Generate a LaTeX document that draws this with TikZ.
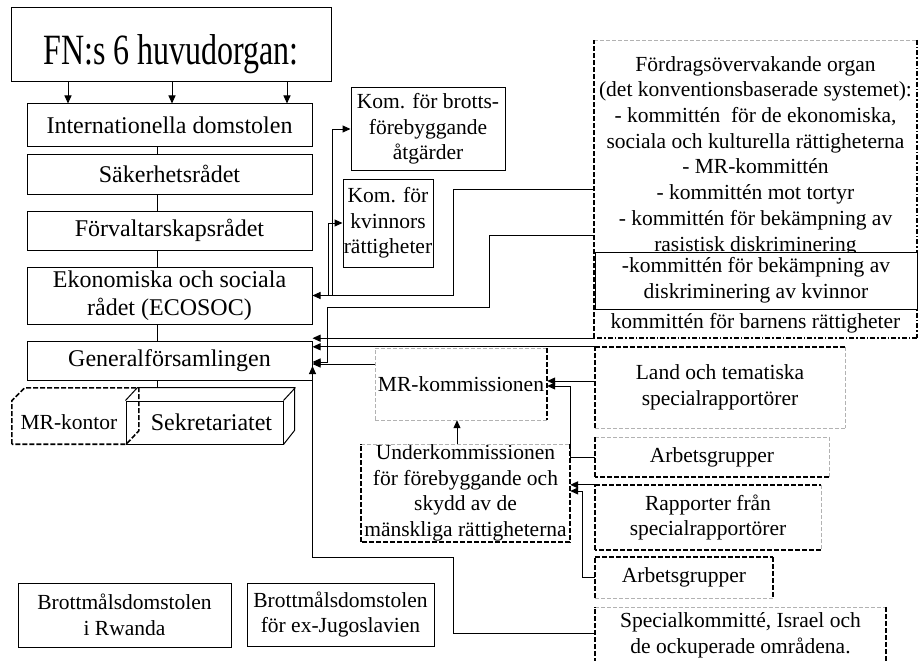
\documentclass[tikz,border=0pt]{standalone}
\usepackage{fontspec}
\setmainfont{Liberation Serif}
\usepackage{graphicx}
\usetikzlibrary{arrows.meta}

\newcommand\orgfont{\fontsize{24}{28}\selectfont}
\newcommand\komfont{\fontsize{21.5}{25.7}\selectfont}
\newcommand\fntitle{\fontsize{32}{38}\selectfont}
% four sides of a box, each with its own style: top, right, bottom, left
\newcommand\sides[5]{%
  \draw[#2] (#1.north west) -- (#1.north east);
  \draw[#3] (#1.north east) -- (#1.south east);
  \draw[#4] (#1.south east) -- (#1.south west);
  \draw[#5] (#1.south west) -- (#1.north west);}

\begin{document}
\begin{tikzpicture}[x=1pt,y=1pt,yscale=-1,
  organ/.style={draw, line width=1pt, fill=white, inner sep=0pt, align=center, font=\orgfont},
  plain/.style={inner sep=0pt, align=center, font=\komfont},
  wire/.style={line width=1pt},
  arr/.style={line width=1pt, -{Triangle[length=8pt,width=7pt]}},
  heavydash/.style={line width=1.6pt, dash pattern=on 5pt off 2pt},
  heavydot/.style={line width=1.6pt, dash pattern=on 5pt off 2pt on 1.5pt off 2pt},
  litedash/.style={line width=0.5pt, draw=gray!60, dash pattern=on 4pt off 2pt}]
\useasboundingbox (0,0) rectangle (919,661);

%Title
\node[organ, font=\fntitle, minimum width=320pt, minimum height=74pt, text height=40pt, text depth=0pt] (title) at (171,45) {\scalebox{1}[1.35]{FN:s 6 huvudorgan:}};

%Main organs
\node[organ, minimum width=285pt, minimum height=42pt] (intl) at (169.5,125) {Internationella domstolen};
\node[organ, minimum width=285pt, minimum height=40pt] (sak) at (169.5,174) {Säkerhetsrådet};
\node[organ, minimum width=285pt, minimum height=39pt] (forv) at (169.5,230.5) {Förvaltarskapsrådet};
\node[organ, minimum width=285pt, minimum height=57pt] (ecosoc) at (169.5,295.5) {Ekonomiska och sociala\\rådet (ECOSOC)};
\node[organ, minimum width=285pt, minimum height=39pt] (ga) at (169.5,360.5) {Generalförsamlingen};

\foreach \x in {68,172,287}
  \draw[arr] (title.south -| \x,0) -- (intl.north -| \x,0);
\coordinate (spine) at (157,388);
\foreach \a/\b in {intl/sak,sak/forv,forv/ecosoc,ecosoc/ga}
  \draw[wire] (\a.south -| spine) -- (\b.north -| spine);
\draw[wire] (ga.south -| spine) -- (spine);

%Cubes
\node[organ, minimum width=157pt, minimum height=43pt] (sek) at (204.5,422.5) {\hspace*{14pt}Sekretariatet};
\draw[wire] (sek.north west) -- ++(12,-13) -- ++(157,0) -- ++(0,43) -- (sek.south east)
  (sek.north east) -- ++(12,-13);
\node[plain, minimum width=114pt, minimum height=43pt] (kontor) at (69,422.5) {MR-kontor};
\draw[heavydash] (kontor.south west) -- (kontor.north west) -- ++(13,-13) -- ++(114,0) -- ++(0,43) -- (kontor.south east) -- cycle;

%Committees under ECOSOC
\node[organ, font=\komfont, minimum width=154pt, minimum height=82pt] (brotts) at (428,129) {Kom. för brotts-\\förebyggande\\åtgärder};
\node[organ, font=\komfont, minimum width=90pt, minimum height=88pt] (kvinnor) at (388,223) {Kom. för\\kvinnors\\rättigheter};

%Treaty bodies
\node[plain, minimum width=323pt, minimum height=298pt] (treaty) at (755.5,189) {\rule{0pt}{26pt}Fördragsövervakande organ\\(det konventionsbaserade systemet):\\- kommittén\ \ för de ekonomiska,\\sociala och kulturella rättigheterna\\- MR-kommittén\\- kommittén mot tortyr\\- kommittén för bekämpning av\\rasistisk diskriminering\\[51.4pt]kommittén för barnens rättigheter};
\sides{treaty}{litedash}{heavydot}{heavydot}{heavydash}
\node[organ, font=\komfont, minimum width=322pt, minimum height=57pt] (cedaw) at (756,280.5) {-kommittén för bekämpning av\\diskriminering av kvinnor};

%Boxes on the right
\node[plain, minimum width=250pt, minimum height=81pt] (land) at (720,387.5) {Land och tematiska\\specialrapportörer};
\sides{land}{heavydash}{litedash}{litedash}{heavydash}
\node[plain, minimum width=234pt, minimum height=40pt] (arb1) at (712,457) {Arbetsgrupper};
\sides{arb1}{litedash}{litedash}{heavydash}{heavydash}
\node[plain, minimum width=226pt, minimum height=65pt] (rapp) at (708,517.5) {Rapporter från\\specialrapportörer};
\sides{rapp}{heavydash}{litedash}{heavydash}{heavydash}
\node[plain, minimum width=178pt, minimum height=41pt] (arb2) at (684,577.5) {Arbetsgrupper};
\sides{arb2}{heavydash}{heavydash}{litedash}{heavydash}
\node[plain, minimum width=291pt, minimum height=56pt] (spec) at (740.5,635) {Specialkommitté, Israel och\\de ockuperade områdena.};
\sides{spec}{litedash}{heavydash}{heavydash}{heavydash}

%Commissions
\node[plain, minimum width=172pt, minimum height=72pt] (mrkom) at (461,384) {MR-kommissionen};
\sides{mrkom}{litedash}{heavydash}{litedash}{litedash}
\node[plain, minimum width=209pt, minimum height=98pt] (underkom) at (465.5,493) {Underkommissionen\\för förebyggande och\\skydd av de\\mänskliga rättigheterna};
\sides{underkom}{litedash}{heavydash}{heavydash}{heavydash}

%Tribunals
\node[organ, font=\komfont, minimum width=213pt, minimum height=64pt] (rwanda) at (124.5,615) {Brottmålsdomstolen\\i Rwanda};
\node[organ, font=\komfont, minimum width=187pt, minimum height=63pt] (jugo) at (340.5,614.5) {Brottmålsdomstolen\\för ex-Jugoslavien};

%Connectors
\coordinate (ecojog) at (453,295.5);
\draw[arr] (treaty.west) -| (ecojog) -- (ecosoc.east);
\draw[arr] (ecosoc.east -| 332,0) |- (brotts.west);
\draw[arr] (ecosoc.east -| 328,0) |- (kvinnor.west);
\draw[arr] (treaty.west |- 0,235) -| (489,307) -| (327,362) -- (ga.east |- 0,362);
\draw[arr] (treaty.south west) -- (treaty.south west -| ga.east);
\draw[arr] (land.north west) -- (land.north west -| ga.east);
\draw[arr] (mrkom.west |- 0,364) -- (ga.east |- 0,364);
\draw[arr] (spec.west |- 0,633) -| (453,557) -| (ga.east |- 0,366);
\draw[arr] (underkom.north -| 457,0) -- (mrkom.south -| 457,0);
\draw[arr] (land.west |- 0,381) -- (mrkom.east |- 0,381);
\draw[arr] (arb1.west) -| (570,386) -- (mrkom.east |- 0,386);
\draw[arr] (rapp.north west) -- (rapp.north west -| underkom.east);
\draw[arr] (arb2.west) -| (582,491) -- (underkom.east |- 0,491);

\end{tikzpicture}
\end{document}
